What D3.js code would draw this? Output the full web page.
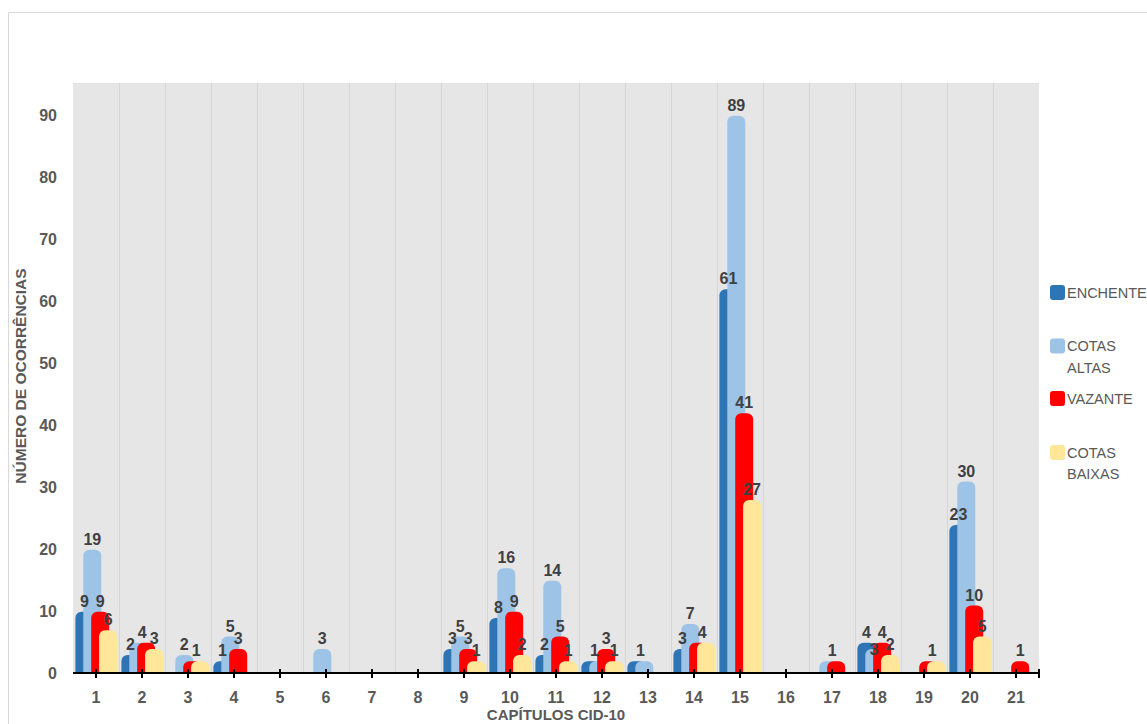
<!DOCTYPE html>
<html>
<head>
<meta charset="utf-8">
<script src="https://cdn.jsdelivr.net/npm/d3@7"></script>
<style>
  html, body { margin: 0; padding: 0; background: #ffffff; }
  svg { display: block; font-family: "Liberation Sans", Arial, sans-serif; }
</style>
</head>
<body>
<svg id="chart" width="1147" height="724"></svg>
<script>
// ---- data ----
const categories = ["1","2","3","4","5","6","7","8","9","10","11","12","13","14","15","16","17","18","19","20","21"];
const seriesNames = ["ENCHENTE", "COTAS ALTAS", "VAZANTE", "COTAS BAIXAS"];
const legendLines = [["ENCHENTE"], ["COTAS", "ALTAS"], ["VAZANTE"], ["COTAS", "BAIXAS"]];
const enchente    = [9, 2, 0, 1, 0, 0, 0, 0, 3, 8, 2, 1, 1, 3, 61, 0, 0, 4, 0, 23, 0];
const cotasAltas  = [19, 4, 2, 5, 0, 3, 0, 0, 5, 16, 14, 1, 1, 7, 89, 0, 1, 3, 0, 30, 0];
const vazante     = [9, 4, 1, 3, 0, 0, 0, 0, 3, 9, 5, 3, 0, 4, 41, 0, 1, 4, 1, 10, 1];
const cotasBaixas = [6, 3, 1, 0, 0, 0, 0, 0, 1, 2, 1, 1, 0, 4, 27, 0, 0, 2, 1, 5, 0];
const yTicks = [0, 10, 20, 30, 40, 50, 60, 70, 80, 90];
const yTitle = "NÚMERO DE OCORRÊNCIAS";
const xTitle = "CAPÍTULOS CID-10";

const seriesValues = [enchente, cotasAltas, vazante, cotasBaixas];
const colors = ["#2E75B6", "#9DC3E6", "#FF0000", "#FFE699"];

// ---- layout ----
const svg = d3.select("#chart");
const plot = { left: 73, right: 1039, top: 83, bottom: 673 };

const x = d3.scaleBand().domain(categories).range([plot.left, plot.right]).padding(0);
const y = d3.scaleLinear().domain([0, 90]).range([plot.bottom, 115]);

const barW = 18, barStep = 7.9, groupHalf = 20.6, capExtra = 5.5, radius = 6;
const barLeft = (cat, i) => x(cat) + x.bandwidth() / 2 - groupHalf + i * barStep;
const barCenter = (cat, i) => barLeft(cat, i) + barW / 2;

// chart area border
svg.append("path")
  .attr("d", "M8.5,724 L8.5,12.5 L1147,12.5")
  .attr("fill", "none").attr("stroke", "#d9d9d9").attr("stroke-width", 1);

// plot background
svg.append("rect")
  .attr("x", plot.left).attr("y", plot.top)
  .attr("width", plot.right - plot.left).attr("height", plot.bottom - plot.top)
  .attr("fill", "#e6e6e6");

// vertical gridlines at category boundaries
svg.append("g").selectAll("line")
  .data(categories.slice(1))
  .join("line")
  .attr("x1", d => Math.round(x(d)) + 0.5).attr("x2", d => Math.round(x(d)) + 0.5)
  .attr("y1", plot.top).attr("y2", plot.bottom)
  .attr("stroke", "#d6d6d6").attr("stroke-width", 1);

// bars
function roundTopPath(x0, top, w, bottom, r) {
  const h = bottom - top;
  const rr = Math.min(r, w / 2, h);
  return `M${x0},${bottom} L${x0},${top + rr} A${rr},${rr} 0 0 1 ${x0 + rr},${top} ` +
         `L${x0 + w - rr},${top} A${rr},${rr} 0 0 1 ${x0 + w},${top + rr} L${x0 + w},${bottom} Z`;
}

const barsG = svg.append("g");
seriesValues.forEach((vals, i) => {
  barsG.append("g").selectAll("path")
    .data(categories.map((c, k) => ({ c, v: vals[k] })).filter(d => d.v > 0))
    .join("path")
    .attr("d", d => roundTopPath(barLeft(d.c, i), y(d.v) - capExtra, barW, plot.bottom, radius))
    .attr("fill", colors[i]);
});

// data labels (equal consecutive values share one label)
const labels = [];
categories.forEach((c, k) => {
  let i = 0;
  while (i < 4) {
    const v = seriesValues[i][k];
    if (v > 0) {
      let j = i;
      while (j + 1 < 4 && seriesValues[j + 1][k] === v) j++;
      const cx = (barCenter(c, i) + barCenter(c, j)) / 2;
      let by = y(v) - capExtra - 5;
      // avoid collision with labels already placed in this category
      labels.filter(l => l.c === c).forEach(l => {
        if (Math.abs(l.x - cx) < 9 && Math.abs(l.y - by) < 10) by = l.y + 17;
      });
      labels.push({ c, v, x: cx, y: by });
      i = j + 1;
    } else i++;
  }
});
svg.append("g").selectAll("text")
  .data(labels)
  .join("text")
  .attr("x", d => d.x).attr("y", d => d.y)
  .attr("text-anchor", "middle")
  .attr("font-size", 16).attr("font-weight", "bold")
  .attr("fill", "#404040")
  .text(d => d.v);

// x axis line
svg.append("line")
  .attr("x1", plot.left).attr("x2", plot.right + 1)
  .attr("y1", plot.bottom).attr("y2", plot.bottom)
  .attr("stroke", "#000").attr("stroke-width", 2);

// x ticks (at category centres plus right end)
const tickXs = categories.map(c => x(c) + x.bandwidth() / 2).concat([plot.right]);
svg.append("g").selectAll("line")
  .data(tickXs)
  .join("line")
  .attr("x1", d => d).attr("x2", d => d)
  .attr("y1", plot.bottom - 4).attr("y2", plot.bottom + 5)
  .attr("stroke", "#000").attr("stroke-width", 2);

// x tick labels
svg.append("g").selectAll("text")
  .data(categories)
  .join("text")
  .attr("x", d => x(d) + x.bandwidth() / 2)
  .attr("y", 703)
  .attr("text-anchor", "middle")
  .attr("font-size", 16).attr("font-weight", "bold")
  .attr("fill", "#595959")
  .text(d => d);

// y tick labels
svg.append("g").selectAll("text")
  .data(yTicks)
  .join("text")
  .attr("x", 57)
  .attr("y", d => y(d))
  .attr("dy", "0.36em")
  .attr("text-anchor", "end")
  .attr("font-size", 16).attr("font-weight", "bold")
  .attr("fill", "#595959")
  .text(d => d);

// axis titles
svg.append("text")
  .attr("transform", "translate(26,376) rotate(-90)")
  .attr("text-anchor", "middle")
  .attr("font-size", 15.5).attr("font-weight", "bold")
  .attr("fill", "#595959")
  .text(yTitle);

svg.append("text")
  .attr("x", 556).attr("y", 720)
  .attr("text-anchor", "middle")
  .attr("font-size", 15).attr("font-weight", "bold")
  .attr("fill", "#595959")
  .text(xTitle);

// legend
const legendY = [292.5, 346, 398.5, 452.5];
const lg = svg.append("g");
seriesNames.forEach((name, i) => {
  const g = lg.append("g");
  g.append("rect")
    .attr("x", 1050).attr("y", legendY[i] - 7.5)
    .attr("width", 15).attr("height", 15)
    .attr("rx", 3).attr("fill", colors[i]);
  legendLines[i].forEach((line, li) => {
    g.append("text")
      .attr("x", 1067).attr("y", legendY[i] + li * 21.5)
      .attr("dy", "0.36em")
      .attr("font-size", 14.5)
      .attr("fill", "#595959")
      .text(line);
  });
});
</script>
</body>
</html>
